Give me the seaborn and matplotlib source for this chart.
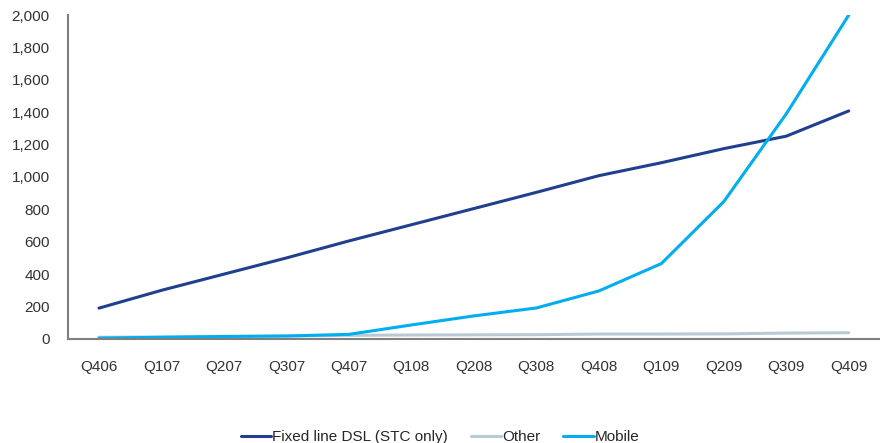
import matplotlib
matplotlib.use("Agg")
import matplotlib.pyplot as plt
import matplotlib.ticker as mticker
import seaborn as sns
import pandas as pd

quarters = ["Q406", "Q107", "Q207", "Q307", "Q407", "Q108", "Q208",
            "Q308", "Q408", "Q109", "Q209", "Q309", "Q409"]
fixed_dsl = [190, 300, 400, 500, 605, 705, 805, 905, 1008, 1088, 1175, 1252, 1408]
other = [10, 12, 15, 17, 22, 24, 25, 26, 30, 30, 31, 36, 38]
mobile = [5, 10, 15, 18, 28, 86, 142, 191, 296, 465, 848, 1390, 2000]

series_names = ["Fixed line DSL (STC only)", "Other", "Mobile"]
palette = {"Fixed line DSL (STC only)": "#213F8F",
           "Other": "#BACAD5",
           "Mobile": "#00AEEF"}

df = pd.DataFrame({
    "quarter": quarters * 3,
    "subscribers": fixed_dsl + other + mobile,
    "series": [series_names[0]] * 13 + [series_names[1]] * 13 + [series_names[2]] * 13,
})
df["pos"] = df.groupby("series").cumcount()

sns.set_style("white")
plt.rcParams["font.family"] = ["Liberation Sans", "DejaVu Sans"]

fig = plt.figure(figsize=(8.8, 4.43), dpi=100)
ax = fig.add_axes([0.077, 0.235, 0.923, 0.731])

sns.lineplot(data=df, x="pos", y="subscribers", hue="series",
             hue_order=series_names, palette=palette, linewidth=2.2,
             ax=ax, legend=True, sort=False)

ax.set_xlim(-0.5, len(quarters) - 0.5)
ax.set_ylim(0, 2000)
ax.yaxis.set_major_locator(mticker.MultipleLocator(200))
ax.yaxis.set_major_formatter(mticker.FuncFormatter(lambda v, p: f"{int(v):,}"))

fs = 11
ax.set_xticks(range(len(quarters)))
ax.set_xticklabels(quarters)
ax.set_xticks([i + 0.5 for i in range(-1, len(quarters))], minor=True)
ax.tick_params(axis="x", which="major", length=0, pad=15, labelsize=fs, colors="#333333")
ax.tick_params(axis="x", which="minor", length=5, width=1.2, color="#808080", direction="out")
ax.tick_params(axis="y", which="major", length=5, width=1.2, color="#808080",
               direction="out", labelsize=fs, pad=8)
ax.tick_params(axis="y", colors="#808080", labelcolor="#333333")

for side in ["top", "right"]:
    ax.spines[side].set_visible(False)
for side in ["left", "bottom"]:
    ax.spines[side].set_color("#808080")
    ax.spines[side].set_linewidth(1.5)

ax.set_xlabel("")
ax.set_ylabel("")

handles, labels = ax.get_legend_handles_labels()
ax.get_legend().remove()
fig.legend(handles, labels, loc="lower center", bbox_to_anchor=(0.5, -0.033),
           ncol=3, frameon=False, fontsize=fs, handlelength=2.0,
           handletextpad=0.05, columnspacing=1.5)

fig.savefig("out.png", dpi=100)
